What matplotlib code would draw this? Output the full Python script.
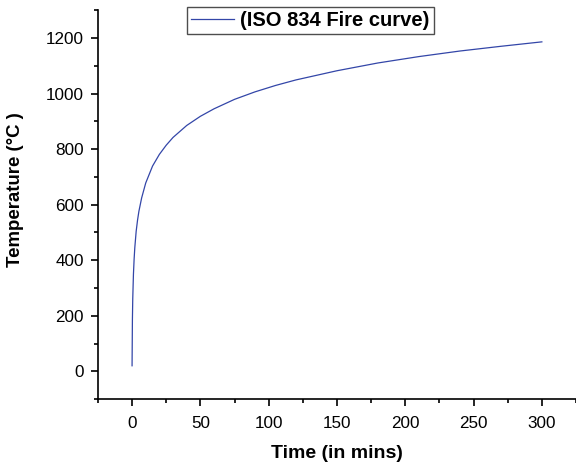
import numpy as np
import matplotlib
matplotlib.use("Agg")
import matplotlib.pyplot as plt
from matplotlib.ticker import MultipleLocator

# values (time in mins, temperature in degC)
time_min = [0, 0.25, 0.5, 1, 1.5, 2, 3, 4, 5, 7, 10, 15, 20, 25, 30, 40, 50, 60,
            75, 90, 105, 120, 150, 180, 210, 240, 270, 300]
temp_c = [20, 186, 261, 349, 404, 445, 504, 544, 576, 624, 678, 739, 781, 814,
          842, 885, 918, 945, 979, 1006, 1029, 1049, 1082, 1110, 1133, 1153, 1170, 1186]

plt.rcParams['font.family'] = ['Liberation Sans', 'DejaVu Sans']

fig = plt.figure(figsize=(5.76, 4.63), dpi=100)
ax = fig.add_axes([0.170, 0.138, 0.830, 0.840])

ax.plot(time_min, temp_c, color='#3346A8', lw=0.9, label='(ISO 834 Fire curve)')

ax.set_xlim(-25, 325)
ax.set_ylim(-100, 1300)
ax.xaxis.set_major_locator(MultipleLocator(50))
ax.xaxis.set_minor_locator(MultipleLocator(25))
ax.yaxis.set_major_locator(MultipleLocator(200))
ax.yaxis.set_minor_locator(MultipleLocator(100))
ax.tick_params(which='major', direction='out', length=5, width=1.2, labelsize=12.3)
ax.tick_params(axis='x', which='major', pad=7)
ax.tick_params(axis='y', which='major', pad=5)
ax.tick_params(which='minor', direction='out', length=3, width=1.2)

ax.spines['top'].set_visible(False)
ax.spines['right'].set_visible(False)
ax.spines['left'].set_linewidth(1.2)
ax.spines['bottom'].set_linewidth(1.2)

ax.set_xlabel('Time (in mins)', fontsize=14, fontweight='bold', labelpad=10)
ax.set_ylabel('Temperature (°C )', fontsize=13.4, fontweight='bold', labelpad=16)
ax.yaxis.label.set_y(0.539)

leg = ax.legend(loc='center', bbox_to_anchor=(0.4446, 0.974), frameon=True,
                fancybox=False, prop={'weight': 'bold', 'size': 14.5},
                handlelength=2.15, borderpad=0.2, handletextpad=0.3,
                borderaxespad=0)
leg.get_frame().set_edgecolor('#222222')
leg.get_frame().set_linewidth(1.0)

fig.savefig('out.png', dpi=100)
